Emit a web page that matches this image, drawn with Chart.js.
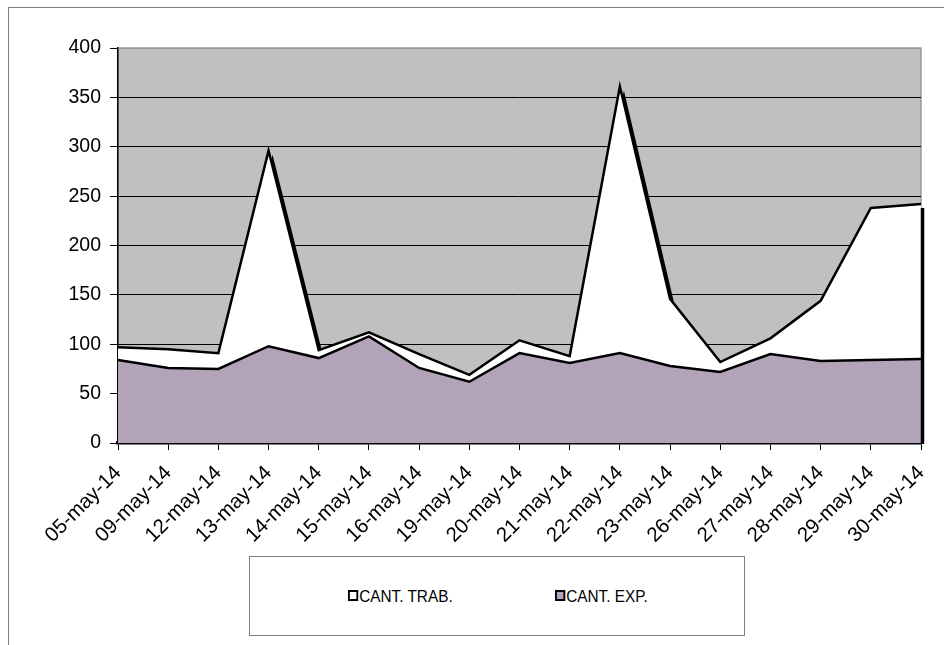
<!DOCTYPE html>
<html lang="es">
<head>
  <meta charset="UTF-8" />
  <title>CANT. TRAB. / CANT. EXP.</title>
  <script src="https://cdn.jsdelivr.net/npm/chart.js"></script>
  <style>
    html, body { margin: 0; padding: 0; background: #fff; overflow: hidden; }
    body { width: 944px; height: 645px; position: relative; font-family: "Liberation Sans", Arial, sans-serif; }
    .frame { position: absolute; left: 8px; top: 7px; width: 1000px; height: 700px; border: 1px solid #808080; box-sizing: border-box; }
    #chart { position: absolute; left: 0; top: 0; }
    .legend { position: absolute; left: 249px; top: 556px; width: 496px; height: 80px; border: 1px solid #808080; box-sizing: border-box; background: #fff; }
    .legend span { position: absolute; top: 30px; font-size: 16.5px; color: #000; line-height: 19px; transform: scaleX(0.93); transform-origin: left center; white-space: nowrap; }
    .legend i { display: inline-block; width: 7px; height: 7px; border: 2px solid #000; margin-right: 1px; vertical-align: 1px; }
  </style>
</head>
<body>
  <div class="frame"></div>
  <canvas id="chart" width="944" height="645"></canvas>
  <div class="legend">
    <span style="left:98px;"><i style="background:#fff;"></i>CANT. TRAB.</span>
    <span style="left:305px;"><i style="background:#b3a3b9;"></i>CANT. EXP.</span>
  </div>

  <script>
const fechas = ['05-may-14','09-may-14','12-may-14','13-may-14','14-may-14','15-may-14','16-may-14','19-may-14','20-may-14',
  '21-may-14','22-may-14','23-may-14','26-may-14','27-may-14','28-may-14','29-may-14','30-may-14'];
const cantTrab = [97, 95, 91, 296, 94, 112, 90, 69, 104, 88, 361, 146, 82, 106, 144, 238, 242];
const cantExp = [84, 76, 75, 98, 86, 108, 76, 62, 91, 81, 91, 78, 72, 90, 83, 84, 85];
const yTicks = [0, 50, 100, 150, 200, 250, 300, 350, 400];

// gray plot area with its thin border
const plotBg = {
  id: 'plotBg',
  beforeDraw(chart) {
    const { ctx, chartArea: a } = chart;
    ctx.save();
    ctx.fillStyle = '#c0c0c0';
    ctx.fillRect(a.left, a.top, a.right - a.left, a.bottom - a.top);
    ctx.strokeStyle = '#9a9a9a';
    ctx.lineWidth = 1.5;
    ctx.strokeRect(a.left, a.top, a.right - a.left, a.bottom - a.top);
    ctx.restore();
  }
};

// Excel-like drop shadow under the CANT. TRAB. area only
const areaShadow = {
  id: 'areaShadow',
  beforeDatasetsDraw(chart) {
    const ctx = chart.ctx;
    ctx.shadowColor = '#000';
    ctx.shadowOffsetX = 4;
    ctx.shadowOffsetY = 4;
    ctx.shadowBlur = 0;
  },
  beforeDatasetDraw(chart) {
    const ctx = chart.ctx;
    ctx.shadowColor = 'rgba(0,0,0,0)';
    ctx.shadowOffsetX = 0;
    ctx.shadowOffsetY = 0;
  },
  afterDatasetsDraw(chart) {
    // the shadow edge on the right side, which the chart area clip hides
    const { ctx, chartArea: a } = chart;
    const pts = chart.getDatasetMeta(0).data;
    const last = pts[pts.length - 1];
    ctx.save();
    ctx.strokeStyle = '#000';
    ctx.lineWidth = 3.5;
    ctx.beginPath();
    ctx.moveTo(a.right + 1.5, last.y + 4);
    ctx.lineTo(a.right + 1.5, a.bottom + 1);
    ctx.stroke();
    ctx.restore();
  }
};

new Chart(document.getElementById('chart'), {
  type: 'line',
  data: {
    labels: fechas,
    datasets: [
      {
        label: 'CANT. TRAB.',
        data: cantTrab,
        order: 2,
        fill: 'origin',
        backgroundColor: '#ffffff',
        borderColor: '#000',
        borderWidth: 2.5,
        pointRadius: 0,
        tension: 0
      },
      {
        label: 'CANT. EXP.',
        data: cantExp,
        order: 1,
        fill: 'origin',
        backgroundColor: '#b3a3b9',
        borderColor: '#000',
        borderWidth: 2.5,
        pointRadius: 0,
        tension: 0
      }
    ]
  },
  options: {
    responsive: false,
    animation: false,
    layout: { padding: { left: 0, top: 48, right: 23, bottom: 0 } },
    plugins: {
      legend: { display: false },
      tooltip: { enabled: false }
    },
    scales: {
      x: {
        offset: false,
        afterFit(scale) {
          scale.height = 202;
          scale.paddingLeft = 0;
          scale.paddingRight = 0;
        },
        grid: { drawOnChartArea: false, tickLength: 7, tickColor: '#000', offset: false },
        border: { color: '#000', width: 3.5 },
        ticks: {
          autoSkip: false,
          maxRotation: 45,
          minRotation: 45,
          color: '#000',
          padding: 11,
          font: { family: '"Liberation Sans", Arial, sans-serif', size: 20.5 }
        }
      },
      y: {
        min: 0,
        max: 400,
        afterFit(scale) { scale.width = 118; },
        afterBuildTicks(scale) { scale.ticks = yTicks.map(v => ({ value: v })); },
        grid: {
          color: ctx => ctx.tick && ctx.tick.value === 400 ? '#9a9a9a' : '#000',
          lineWidth: 1,
          tickLength: 8,
          tickColor: '#000'
        },
        border: { color: '#000', width: 1.5 },
        ticks: {
          color: '#000',
          padding: 9,
          font: { family: '"Liberation Sans", Arial, sans-serif', size: 19.5 }
        }
      }
    }
  },
  plugins: [plotBg, areaShadow]
});
  </script>
</body>
</html>
